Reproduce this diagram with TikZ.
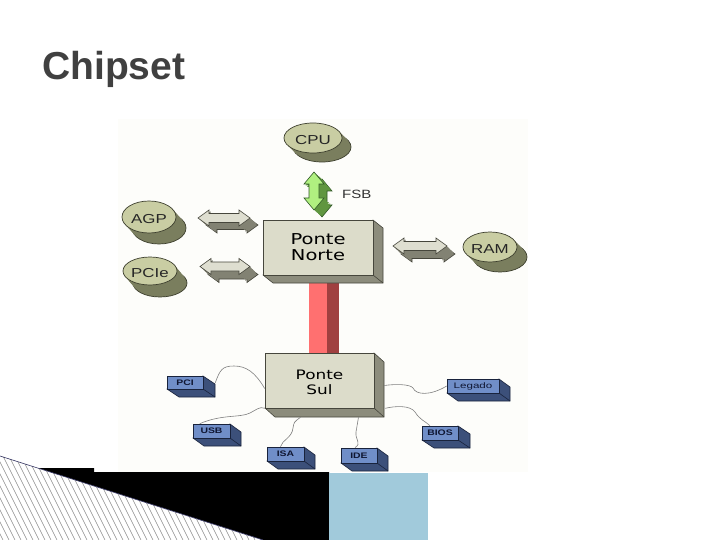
\documentclass[tikz,border=0pt]{standalone}
\usepackage{fontspec}
\setmainfont{Liberation Sans}
\newfontfamily\lblfont[FakeStretch=1.3]{Liberation Sans}
\newfontfamily\pontefont[FakeStretch=1.3]{DejaVu Sans}
\newfontfamily\smallfont[FakeStretch=1.3]{Liberation Sans}
\newfontfamily\legfont[FakeStretch=1.45]{Liberation Sans}
\newfontfamily\fsbfont[FakeStretch=1.25]{Liberation Sans}
\definecolor{olivefront}{RGB}{201,205,163}
\definecolor{oliveshadow}{RGB}{122,126,94}
\definecolor{oliveline}{RGB}{60,62,45}
\definecolor{boxfront}{RGB}{220,220,202}
\definecolor{boxside}{RGB}{140,140,124}
\definecolor{boxline}{RGB}{70,70,60}
\definecolor{arrfront}{RGB}{222,222,208}
\definecolor{arrside}{RGB}{130,130,115}
\definecolor{arrline}{RGB}{70,70,60}
\definecolor{fsbfront}{RGB}{176,240,128}
\definecolor{fsbside}{RGB}{96,150,64}
\definecolor{fsbline}{RGB}{50,90,40}
\definecolor{redfront}{RGB}{255,112,112}
\definecolor{redside}{RGB}{160,64,64}
\definecolor{bluefront}{RGB}{112,142,200}
\definecolor{blueside}{RGB}{60,80,122}
\definecolor{blueline}{RGB}{25,35,60}
\definecolor{bluetext}{RGB}{15,22,50}
\definecolor{titlegray}{RGB}{64,64,64}
\definecolor{lightblue}{RGB}{161,202,219}
\definecolor{paper}{RGB}{253,253,250}
\tikzset{
  ellabel/.style={inner sep=0, yshift=-2, font=\lblfont\fontsize{13}{13}\selectfont, text=black!85},
  Nside/.style={fill=boxside, draw=boxline, line width=0.6},
  Nface/.style={fill=boxfront, draw=boxline, line width=0.6, inner sep=0, align=center,
     font=\pontefont\fontsize{15}{16}\selectfont},
  Sface/.style={fill=boxfront, draw=boxline, line width=0.6, inner sep=0, align=center,
     font=\pontefont\fontsize{13}{14.5}\selectfont},
  Bside/.style={fill=blueside, draw=blueline, line width=0.6},
  Bface/.style={fill=bluefront, draw=blueline, line width=0.6, inner sep=0,
     font=\smallfont\bfseries\fontsize{8}{8}\selectfont, text=bluetext},
  Lface/.style={fill=bluefront, draw=blueline, line width=0.6, inner sep=0,
     font=\legfont\fontsize{8}{8}\selectfont, text=bluetext},
  wire/.style={draw=black!50, line width=0.6},
}
\newcommand\EllNode[8]{%
  \fill[oliveshadow, draw=oliveline, line width=0.7] (#2+#6,#3+#7) ellipse [x radius=#4, y radius=#5];
  \foreach \t in {0.8,0.6,0.4,0.2}{\fill[oliveshadow] (#2+\t*#6,#3+\t*#7) ellipse [x radius=#4, y radius=#5];}
  \fill[olivefront, draw=oliveline, line width=0.7] (#2,#3) ellipse [x radius=#4, y radius=#5];
  \node[ellabel] (#1) at (#2,#3) {#8};
}
\newcommand\HArrow[7]{% name, cx, cy, half length, dx, dy, prefix
  \coordinate (#1) at (#2,#3);
  \fill[#7side, draw=#7line, line width=0.6, shift={(#2+#5,#3+#6)}]
    (-#4,0) -- (-#4+11,-8) -- (-#4+11,-4.5) -- (#4-11,-4.5) -- (#4-11,-8) -- (#4,0)
    -- (#4-11,8) -- (#4-11,4.5) -- (-#4+11,4.5) -- (-#4+11,8) -- cycle;
  \foreach \t in {0.8,0.6,0.4,0.2}{
  \fill[#7side, shift={(#2+\t*#5,#3+\t*#6)}]
    (-#4,0) -- (-#4+11,-8) -- (-#4+11,-4.5) -- (#4-11,-4.5) -- (#4-11,-8) -- (#4,0)
    -- (#4-11,8) -- (#4-11,4.5) -- (-#4+11,4.5) -- (-#4+11,8) -- cycle;}
  \fill[#7front, draw=#7line, line width=0.6, shift={(#2,#3)}]
    (-#4,0) -- (-#4+11,-8) -- (-#4+11,-4.5) -- (#4-11,-4.5) -- (#4-11,-8) -- (#4,0)
    -- (#4-11,8) -- (#4-11,4.5) -- (-#4+11,4.5) -- (-#4+11,8) -- cycle;
}
\newcommand\VArrow[7]{% name, cx, cy, half length, dx, dy, prefix
  \coordinate (#1) at (#2,#3);
  \fill[#7side, draw=#7line, line width=0.6, shift={(#2+#5,#3+#6)}]
    (0,-#4) -- (-10,-#4+12) -- (-5,-#4+12) -- (-5,#4-12) -- (-10,#4-12) -- (0,#4)
    -- (10,#4-12) -- (5,#4-12) -- (5,-#4+12) -- (10,-#4+12) -- cycle;
  \foreach \t in {0.8,0.6,0.4,0.2}{
  \fill[#7side, shift={(#2+\t*#5,#3+\t*#6)}]
    (0,-#4) -- (-10,-#4+12) -- (-5,-#4+12) -- (-5,#4-12) -- (-10,#4-12) -- (0,#4)
    -- (10,#4-12) -- (5,#4-12) -- (5,-#4+12) -- (10,-#4+12) -- cycle;}
  \fill[#7front, draw=#7line, line width=0.6, shift={(#2,#3)}]
    (0,-#4) -- (-10,-#4+12) -- (-5,-#4+12) -- (-5,#4-12) -- (-10,#4-12) -- (0,#4)
    -- (10,#4-12) -- (5,#4-12) -- (5,-#4+12) -- (10,-#4+12) -- cycle;
}
\begin{document}
\begin{tikzpicture}[x=1pt,y=-1pt]
\useasboundingbox (0,0) rectangle (720,540);
\fill[white] (0,0) rectangle (720,540);
% picture area
\fill[paper] (118,119) rectangle (528,472);
% title
\node[anchor=base west, inner sep=0, font=\fontsize{39}{39}\selectfont\bfseries, text=titlegray] (title) at (42,80) {Chipset};
% ellipses
\EllNode{cpu}{313}{138}{29}{15}{9}{9}{CPU}
\EllNode{agp}{149}{217}{27}{16}{10}{11}{AGP}
\EllNode{pcie}{150}{271}{27}{14}{10}{12}{PCIe}
\EllNode{ram}{490}{247}{27}{15}{10}{10}{RAM}
% arrows
\HArrow{agpbus}{224}{218}{26}{8}{7}{arr}
\HArrow{pciebus}{225}{266.5}{25}{8}{8}{arr}
\HArrow{rambus}{420}{246}{27}{8}{8}{arr}
\VArrow{fsbbus}{314}{191}{19}{8}{7}{fsb}
\node[anchor=base west, inner sep=0, font=\fsbfont\fontsize{12}{12}\selectfont, text=black!80] (fsb) at (342,199) {FSB};
% red link
\fill[redfront] (309,270) rectangle (327,354);
\fill[redside] (327,270) rectangle (339,354);
% Ponte Norte
\path[Nside] (373,220) -- (383,228) -- (383,283) -- (273,283) -- (263,275) -- cycle;
\draw[boxline, line width=0.6] (373,275) -- (383,283);
\node[Nface, minimum width=110, minimum height=55] (norte) at (318,247.5) {Ponte\\Norte};
% Ponte Sul
\path[Nside] (374,353) -- (384,362) -- (384,417) -- (275,417) -- (265,408) -- cycle;
\draw[boxline, line width=0.6] (374,408) -- (384,417);
\node[Sface, minimum width=109, minimum height=55] (sul) at (319.5,380.5) {};
\node[inner sep=0, align=center, font=\pontefont\fontsize{13}{14.5}\selectfont] (sultext) at (319.5,382.5) {Ponte\\Sul};
% small boxes
\path[Bside] (203,376) -- (215,384) -- (215,397) -- (179,397) -- (167,389) -- cycle;
\draw[blueline, line width=0.6] (203,389) -- (215,397);
\node[Bface, minimum width=36, minimum height=13] (pci) at (185,382.5) {PCI};
\path[Bside] (230,424) -- (241,432) -- (241,446) -- (204,446) -- (193,438) -- cycle;
\draw[blueline, line width=0.6] (230,438) -- (241,446);
\node[Bface, minimum width=37, minimum height=14] (usb) at (211.5,431) {USB};
\path[Bside] (304,447) -- (315,455) -- (315,469) -- (278,469) -- (267,461) -- cycle;
\draw[blueline, line width=0.6] (304,461) -- (315,469);
\node[Bface, minimum width=37, minimum height=14] (isa) at (285.5,454) {ISA};
\path[Bside] (377,448) -- (388,456) -- (388,471) -- (352,471) -- (341,463) -- cycle;
\draw[blueline, line width=0.6] (377,463) -- (388,471);
\node[Bface, minimum width=36, minimum height=15] (ide) at (359,455.5) {IDE};
\path[Bside] (458,426) -- (470,434) -- (470,448) -- (434,448) -- (422,440) -- cycle;
\draw[blueline, line width=0.6] (458,440) -- (470,448);
\node[Bface, minimum width=36, minimum height=14] (bios) at (440,433) {BIOS};
\path[Bside] (499,379) -- (510,387) -- (510,401) -- (458,401) -- (447,393) -- cycle;
\draw[blueline, line width=0.6] (499,393) -- (510,401);
\node[Lface, minimum width=52, minimum height=14] (legado) at (473,386) {Legado};
% wires
\draw[wire] ([shift={(12,7)}]pci.north east) .. controls (220,370) and (222,366) .. (234,366) .. controls (246,366) and (255,372) .. ([yshift=-8]sul.west);
\draw[wire] ([shift={(7,0)}]usb.north west) .. controls (222,414) and (240,418) .. (250,413) .. controls (256,410) and (260,406) .. (sul.south west);
\draw[wire] ([xshift=-5]isa.north) .. controls (282,440) and (292,438) .. (293,428) .. controls (294,422) .. ([shift={(-19,9)}]sul.south);
\draw[wire] ([xshift=-4]ide.north) .. controls (362,443) and (355,440) .. (356,432) .. controls (357,425) .. ([shift={(39,9)}]sul.south);
\draw[wire] ([shift={(11,0)}]sul.south east) .. controls (395,406) and (410,405) .. (415,412) .. controls (420,420) and (425,421) .. ([xshift=-10]bios.north);
\draw[wire] ([shift={(10,5)}]sul.east) .. controls (395,384) and (410,384) .. (413,388) .. controls (416,395) and (430,396) .. (legado.west);
% bottom decoration
\fill[black] (37,468) -- (94,468) -- (94,472) -- (329,472) -- (329,540) -- (263,540) -- cycle;
\fill[lightblue] (329,473) rectangle (428,540);
\fill[white] (0,456) -- (263,540) -- (0,540) -- cycle;
\begin{scope}
  \clip (0,456) -- (263,540) -- (0,540) -- cycle;
  \foreach \x in {-60,-54,...,270} {\draw[black!45, line width=0.5] (\x,450) -- (\x+45,540);}
\end{scope}
\draw[black!70!blue!60!gray, line width=0.6] (0,456) -- (263,540);
\end{tikzpicture}
\end{document}
